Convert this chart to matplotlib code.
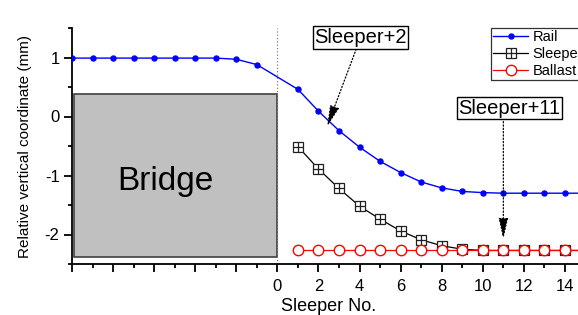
import matplotlib
matplotlib.use("Agg")
import matplotlib.pyplot as plt
from matplotlib.patches import Rectangle
from matplotlib.ticker import MultipleLocator, FixedLocator

plt.rcParams['font.family'] = ['Liberation Sans', 'DejaVu Sans']
plt.rcParams['axes.unicode_minus'] = False

rail_x = [-10, -9, -8, -7, -6, -5, -4, -3, -2, -1, 1, 2, 3, 4, 5, 6, 7, 8, 9, 10, 11, 12, 13, 14, 15]
rail_y = [0.99, 0.99, 0.99, 0.99, 0.99, 0.99, 0.99, 0.99, 0.97, 0.88, 0.46, 0.09, -0.24, -0.52, -0.76,
          -0.95, -1.11, -1.21, -1.27, -1.29, -1.30, -1.30, -1.30, -1.30, -1.30]
sleeper_x = [1, 2, 3, 4, 5, 6, 7, 8, 9, 10, 11, 12, 13, 14, 15]
sleeper_y = [-0.51, -0.89, -1.22, -1.52, -1.74, -1.94, -2.09, -2.19, -2.25, -2.27, -2.27, -2.27, -2.27, -2.27, -2.27]
ballast_x = [1, 2, 3, 4, 5, 6, 7, 8, 9, 10, 11, 12, 13, 14, 15]
ballast_y = [-2.27] * 15
x_tick_labels = ['', '', '', '', '', '0', '2', '4', '6', '8', '10', '12', '14']
x_ticks = [-10, -8, -6, -4, -2, 0, 2, 4, 6, 8, 10, 12, 14]

fig = plt.figure(figsize=(5.78, 3.15), dpi=100)
ax = fig.add_axes([72/578, 51/315, (585.5-72)/578, (264-28)/315])

ax.set_xlim(-10, 15)
ax.set_ylim(-2.5, 1.5)

# bridge
ax.add_patch(Rectangle((-9.9, -2.385), 9.9, 0.38 + 2.385, facecolor='#c0c0c0',
                       edgecolor='#404040', lw=1.2, zorder=1))
ax.text(-5.45, -1.1, 'Bridge', fontsize=24, ha='center', va='center', zorder=2)
ax.axvline(0, color='#808080', ls=':', lw=0.9, zorder=1.5)

l1, = ax.plot(rail_x, rail_y, color='blue', lw=1.0, marker='o', ms=3.6, zorder=4)
l2a, = ax.plot(sleeper_x, sleeper_y, color='black', lw=0.9, marker='s', ms=6.5,
               mfc='white', mec='#202020', mew=0.9, zorder=3)
l2b, = ax.plot(sleeper_x, sleeper_y, ls='none', marker='+', ms=6.5, mec='#202020', mew=0.9, zorder=3.1)
l3, = ax.plot(ballast_x, ballast_y, color='red', lw=0.9, marker='o', ms=7.5,
              mfc='white', mec='red', mew=1.0, zorder=3.5)

ax.spines['top'].set_visible(False)
ax.spines['right'].set_visible(False)
ax.spines['left'].set_linewidth(1.3)
ax.spines['bottom'].set_linewidth(1.3)

ax.xaxis.set_major_locator(FixedLocator(x_ticks))
ax.set_xticklabels(x_tick_labels)
ax.xaxis.set_minor_locator(MultipleLocator(1))
ax.yaxis.set_major_locator(MultipleLocator(1))
ax.yaxis.set_minor_locator(MultipleLocator(0.5))
ax.tick_params(which='major', direction='out', length=6, width=1.3, labelsize=12)
ax.tick_params(axis='x', which='major', pad=5)
ax.tick_params(axis='y', which='major', pad=3)
ax.tick_params(which='minor', direction='out', length=3, width=1.3)

ax.set_xlabel('Sleeper No.', fontsize=13, labelpad=3)
ax.set_ylabel('Relative vertical coordinate (mm)', fontsize=11, labelpad=9)

bbox = dict(boxstyle='square,pad=0.08', fc='white', ec='black', lw=1.0)
aprops = dict(arrowstyle='-|>,head_length=0.8,head_width=0.18', ls=':', color='black', lw=0.9,
              mutation_scale=16, shrinkA=0, shrinkB=0)
ax.annotate('Sleeper+2', xy=(2.42, -0.17), xytext=(4.05, 1.34), fontsize=14.5,
            ha='center', va='center', bbox=bbox, zorder=6, arrowprops=aprops)
ax.text(11.3, 0.14, 'Sleeper+11', fontsize=14.5, ha='center', va='center', bbox=bbox, zorder=6)
ax.annotate('', xy=(11.0, -2.08), xytext=(11.0, -0.03), zorder=5, arrowprops=aprops)

leg = ax.legend([l1, (l2a, l2b), l3], ['Rail', 'Sleeper', 'Ballast'], loc='upper right',
                bbox_to_anchor=(1.0, 1.0), fontsize=10.5, frameon=True, fancybox=False,
                edgecolor='black', handlelength=2.4, handletextpad=0.3, borderpad=0.15,
                labelspacing=0.2, borderaxespad=0.0)
leg.get_frame().set_linewidth(0.9)

fig.savefig('out.png', dpi=100)
